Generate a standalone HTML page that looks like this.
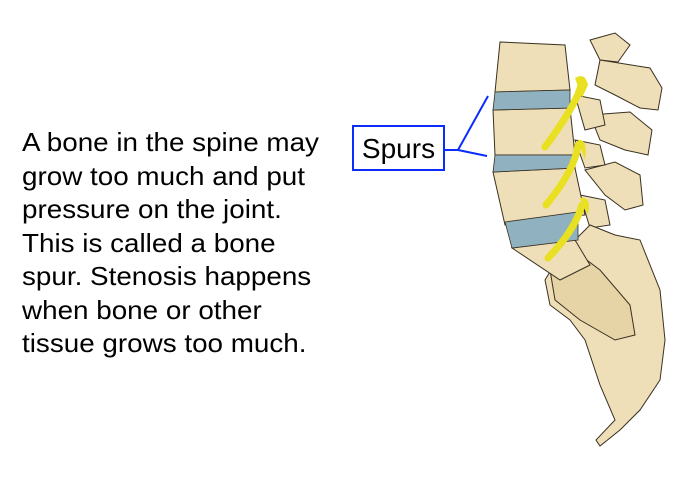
<!DOCTYPE html>
<html><head><meta charset="utf-8"><style>
html,body{margin:0;padding:0;background:#fff;width:700px;height:480px;overflow:hidden;position:relative}
.t{position:absolute;left:22px;top:126px;font:26px/33.5px "Liberation Sans",sans-serif;color:#000;white-space:nowrap;transform:scaleX(1.07);transform-origin:0 0}
.box{position:absolute;left:352px;top:125px;width:89px;height:42px;border:2px solid #0a2cff;font:28px "Liberation Sans",sans-serif;text-align:center;line-height:44px;color:#000}
svg{position:absolute;left:0;top:0}
</style></head><body>
<div class="t">A bone in the spine may<br>grow too much and put<br>pressure on the joint.<br>This is called a bone<br>spur. Stenosis happens<br>when bone or other<br>tissue grows too much.</div>
<div class="box">Spurs</div>
<svg width="700" height="480" viewBox="0 0 700 480">
<g stroke="#3a3020" stroke-width="1" fill="#eedfb8">
<path d="M590 40 L615 33 L630 45 L618 62 L600 60 Z"/>
<path d="M600 60 L650 68 L662 88 L658 110 L640 108 L615 95 L595 85 Z"/>
<path d="M590 115 L630 112 L652 130 L648 155 L625 150 L600 140 Z"/>
<path d="M585 170 L615 162 L640 175 L643 205 L625 210 L605 195 Z"/>
<path d="M575 95 L600 100 L605 125 L585 130 Z"/>
<path d="M575 140 L600 145 L605 165 L585 168 Z"/>
<path d="M580 195 L605 200 L610 225 L590 228 Z"/>
<path d="M545 280 L560 255 L590 225 L615 235 L640 240 L660 290 L665 340 L660 380 L640 410 L620 430 L600 446 L596 440 L615 420 L600 385 L585 340 L570 320 L550 305 Z"/>
<path d="M550 270 L580 255 L600 270 L630 305 L635 335 L615 340 L580 320 L555 300 Z" fill="#e6d3a6"/>
<path d="M500 42 L565 45 L570 90 L495 92 Z"/>
<path d="M493 110 L570 108 L575 155 L495 155 Z"/>
<path d="M493 172 L575 168 L585 215 L505 225 Z"/>
<path d="M512 248 L575 240 L590 265 L560 280 Z"/>
</g>
<g fill="#8fb1c0" stroke="#3a3020" stroke-width="0.8">
<path d="M495 92 L570 90 L570 108 L493 110 Z"/>
<path d="M495 155 L575 155 L575 168 L493 172 Z"/>
<path d="M505 222 L578 212 L578 240 L512 248 Z"/>
</g>
<g fill="none" stroke="#e8e020" stroke-width="7" stroke-linecap="round">
<path d="M582 80 Q580 100 545 147"/>
<path d="M578 145 Q575 170 546 205"/>
<path d="M582 205 Q575 230 548 258"/>
</g>
<path d="M575 78 Q585 72 588 85 L582 98 Z M578 140 Q588 138 585 160 Z M580 198 Q592 196 588 215 Z" fill="#e8e020"/>
<g stroke="#0a2cff" stroke-width="2" fill="none">
<path d="M443 150 L458 150 L488 96 M458 150 L487 156"/>
</g>
</svg>
</body></html>
